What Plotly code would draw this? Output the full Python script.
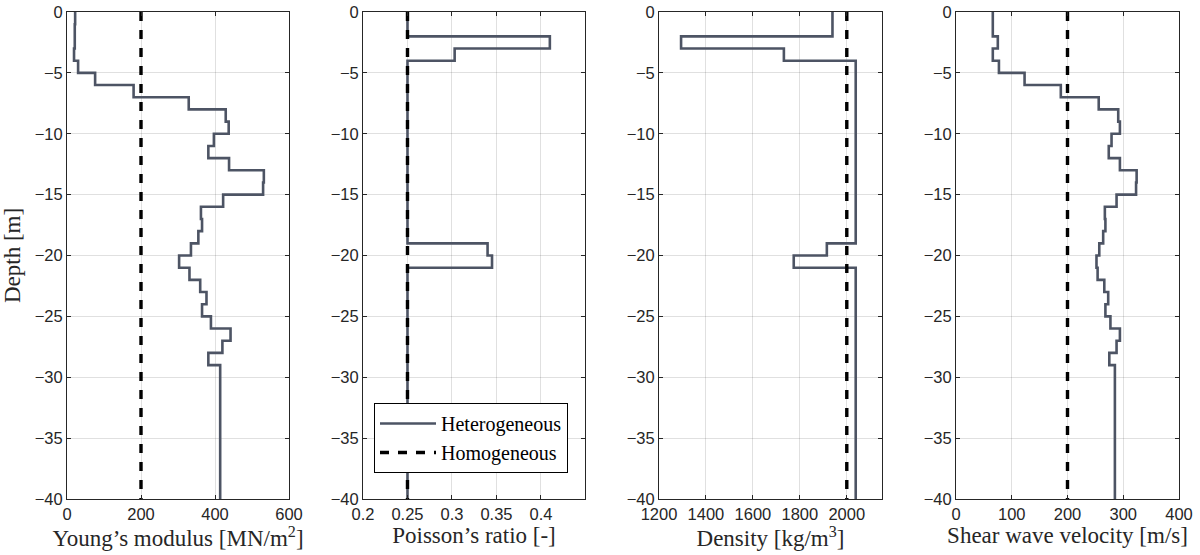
import plotly.graph_objects as go
from plotly.subplots import make_subplots

# Layer tops [m] for the 1 m layers; the last layer extends down to the base.
layer_top = [0, -1, -2, -3, -4, -5, -6, -7, -8, -9, -10, -11, -12, -13, -14,
             -15, -16, -17, -18, -19, -20, -21, -22, -23, -24, -25, -26, -27,
             -28, -29]
base_depth = -40

# Heterogeneous soil profile (one value per layer)
young_het = [22, 21, 21, 19, 30, 76, 180, 329, 429, 437, 397, 382, 438, 532,
             530, 422, 362, 365, 355, 335, 303, 331, 360, 377, 365, 389, 442,
             420, 382, 414]
poisson_het = [0.25, 0.25, 0.41, 0.303, 0.25, 0.25, 0.25, 0.25, 0.25, 0.25,
               0.25, 0.25, 0.25, 0.25, 0.25, 0.25, 0.25, 0.25, 0.25, 0.34,
               0.345, 0.25, 0.25, 0.25, 0.25, 0.25, 0.25, 0.25, 0.25, 0.25]
density_het = [1939, 1939, 1294, 1732, 2038, 2038, 2038, 2038, 2038, 2038,
               2038, 2038, 2038, 2038, 2038, 2038, 2038, 2038, 2038, 1915,
               1774, 2038, 2038, 2038, 2038, 2038, 2038, 2038, 2038, 2038]
vs_het = [66, 66, 75, 66, 77, 123, 188, 256, 291, 294, 279, 274, 294, 324,
          323, 288, 267, 268, 264, 257, 252, 254, 266, 273, 268, 277, 294, 288,
          275, 285]

# Homogeneous reference soil
young_hom = 200
poisson_hom = 0.25
density_hom = 2000
vs_hom = 200

x_titles = ["Young’s modulus [MN/m<sup>2</sup>]", "Poisson’s ratio [-]",
            "Density [kg/m<sup>3</sup>]", "Shear wave velocity [m/s]"]
x_ranges = [[0, 600], [0.2, 0.4495], [1200, 2150], [0, 400]]
x_tickvals = [[0, 200, 400, 600],
              [0.2, 0.25, 0.3, 0.35, 0.4],
              [1200, 1400, 1600, 1800, 2000],
              [0, 100, 200, 300, 400]]
x_ticktext = [["0", "200", "400", "600"],
              ["0.2", "0.25", "0.3", "0.35", "0.4"],
              ["1200", "1400", "1600", "1800", "2000"],
              ["0", "100", "200", "300", "400"]]
depth_ticks = [-40, -35, -30, -25, -20, -15, -10, -5, 0]

HET_COLOR = "#4d5464"
AX_COLOR = "#262626"
GRID_COLOR = "rgba(38,38,38,0.14)"
SERIF = "Liberation Serif"
SANS = "Liberation Sans"

W, H = 1200, 555
panel_px = [(67, 289), (363, 585), (659, 882), (956, 1179)]
y_px = (12, 499)

fig = make_subplots(rows=1, cols=4)

het_sets = [young_het, poisson_het, density_het, vs_het]
hom_vals = [young_hom, poisson_hom, density_hom, vs_hom]

# Step profile: point at each layer top, plus the base of the last layer
step_y = layer_top + [base_depth]

for i in range(4):
    vals = het_sets[i]
    step_x = vals + [vals[-1]]
    fig.add_trace(go.Scatter(
        x=step_x, y=step_y, mode="lines", line_shape="vh",
        line=dict(color=HET_COLOR, width=2.6),
        name="Heterogeneous", legendgroup="het", showlegend=(i == 1)),
        row=1, col=i + 1)
    fig.add_trace(go.Scatter(
        x=[hom_vals[i], hom_vals[i]], y=[0, base_depth], mode="lines",
        line=dict(color="black", width=3.4, dash="9px,9px"),
        name="Homogeneous", legendgroup="hom", showlegend=(i == 1)),
        row=1, col=i + 1)

for i in range(4):
    x0, x1 = panel_px[i]
    xa = dict(
        domain=[x0 / W, x1 / W], range=x_ranges[i], automargin=False,
        tickmode="array", tickvals=x_tickvals[i], ticktext=x_ticktext[i],
        ticks="inside", ticklen=4, tickcolor=AX_COLOR, tickwidth=1,
        showline=True, linecolor=AX_COLOR, linewidth=1, mirror="ticks",
        showgrid=True, gridcolor=GRID_COLOR, gridwidth=1, zeroline=False,
        tickfont=dict(family=SANS, size=16.5, color=AX_COLOR),
        title=dict(text=x_titles[i], standoff=4,
                   font=dict(family=SERIF, size=23, color=AX_COLOR)),
    )
    ya = dict(
        domain=[1 - y_px[1] / H, 1 - y_px[0] / H], range=[-40, 0],
        automargin=False,
        tickmode="array", tickvals=depth_ticks,
        ticks="inside", ticklen=4, tickcolor=AX_COLOR, tickwidth=1,
        showline=True, linecolor=AX_COLOR, linewidth=1, mirror="ticks",
        showgrid=True, gridcolor=GRID_COLOR, gridwidth=1, zeroline=False,
        tickfont=dict(family=SANS, size=16.5, color=AX_COLOR),
    )
    if i == 0:
        ya["title"] = dict(text="Depth [m]", standoff=8,
                           font=dict(family=SERIF, size=23, color=AX_COLOR))
    key = "" if i == 0 else str(i + 1)
    fig.layout["xaxis" + key].update(xa)
    fig.layout["yaxis" + key].update(ya)

fig.update_layout(
    width=W, height=H,
    margin=dict(l=0, r=0, t=0, b=0),
    paper_bgcolor="white", plot_bgcolor="white",
    legend=dict(
        x=374 / W, y=1 - 403 / H, xanchor="left", yanchor="top",
        bgcolor="white", bordercolor="black", borderwidth=1,
        font=dict(family=SERIF, size=20, color="black"),
        itemwidth=56, tracegroupgap=0,
    ),
)

fig.write_html("out.html")
